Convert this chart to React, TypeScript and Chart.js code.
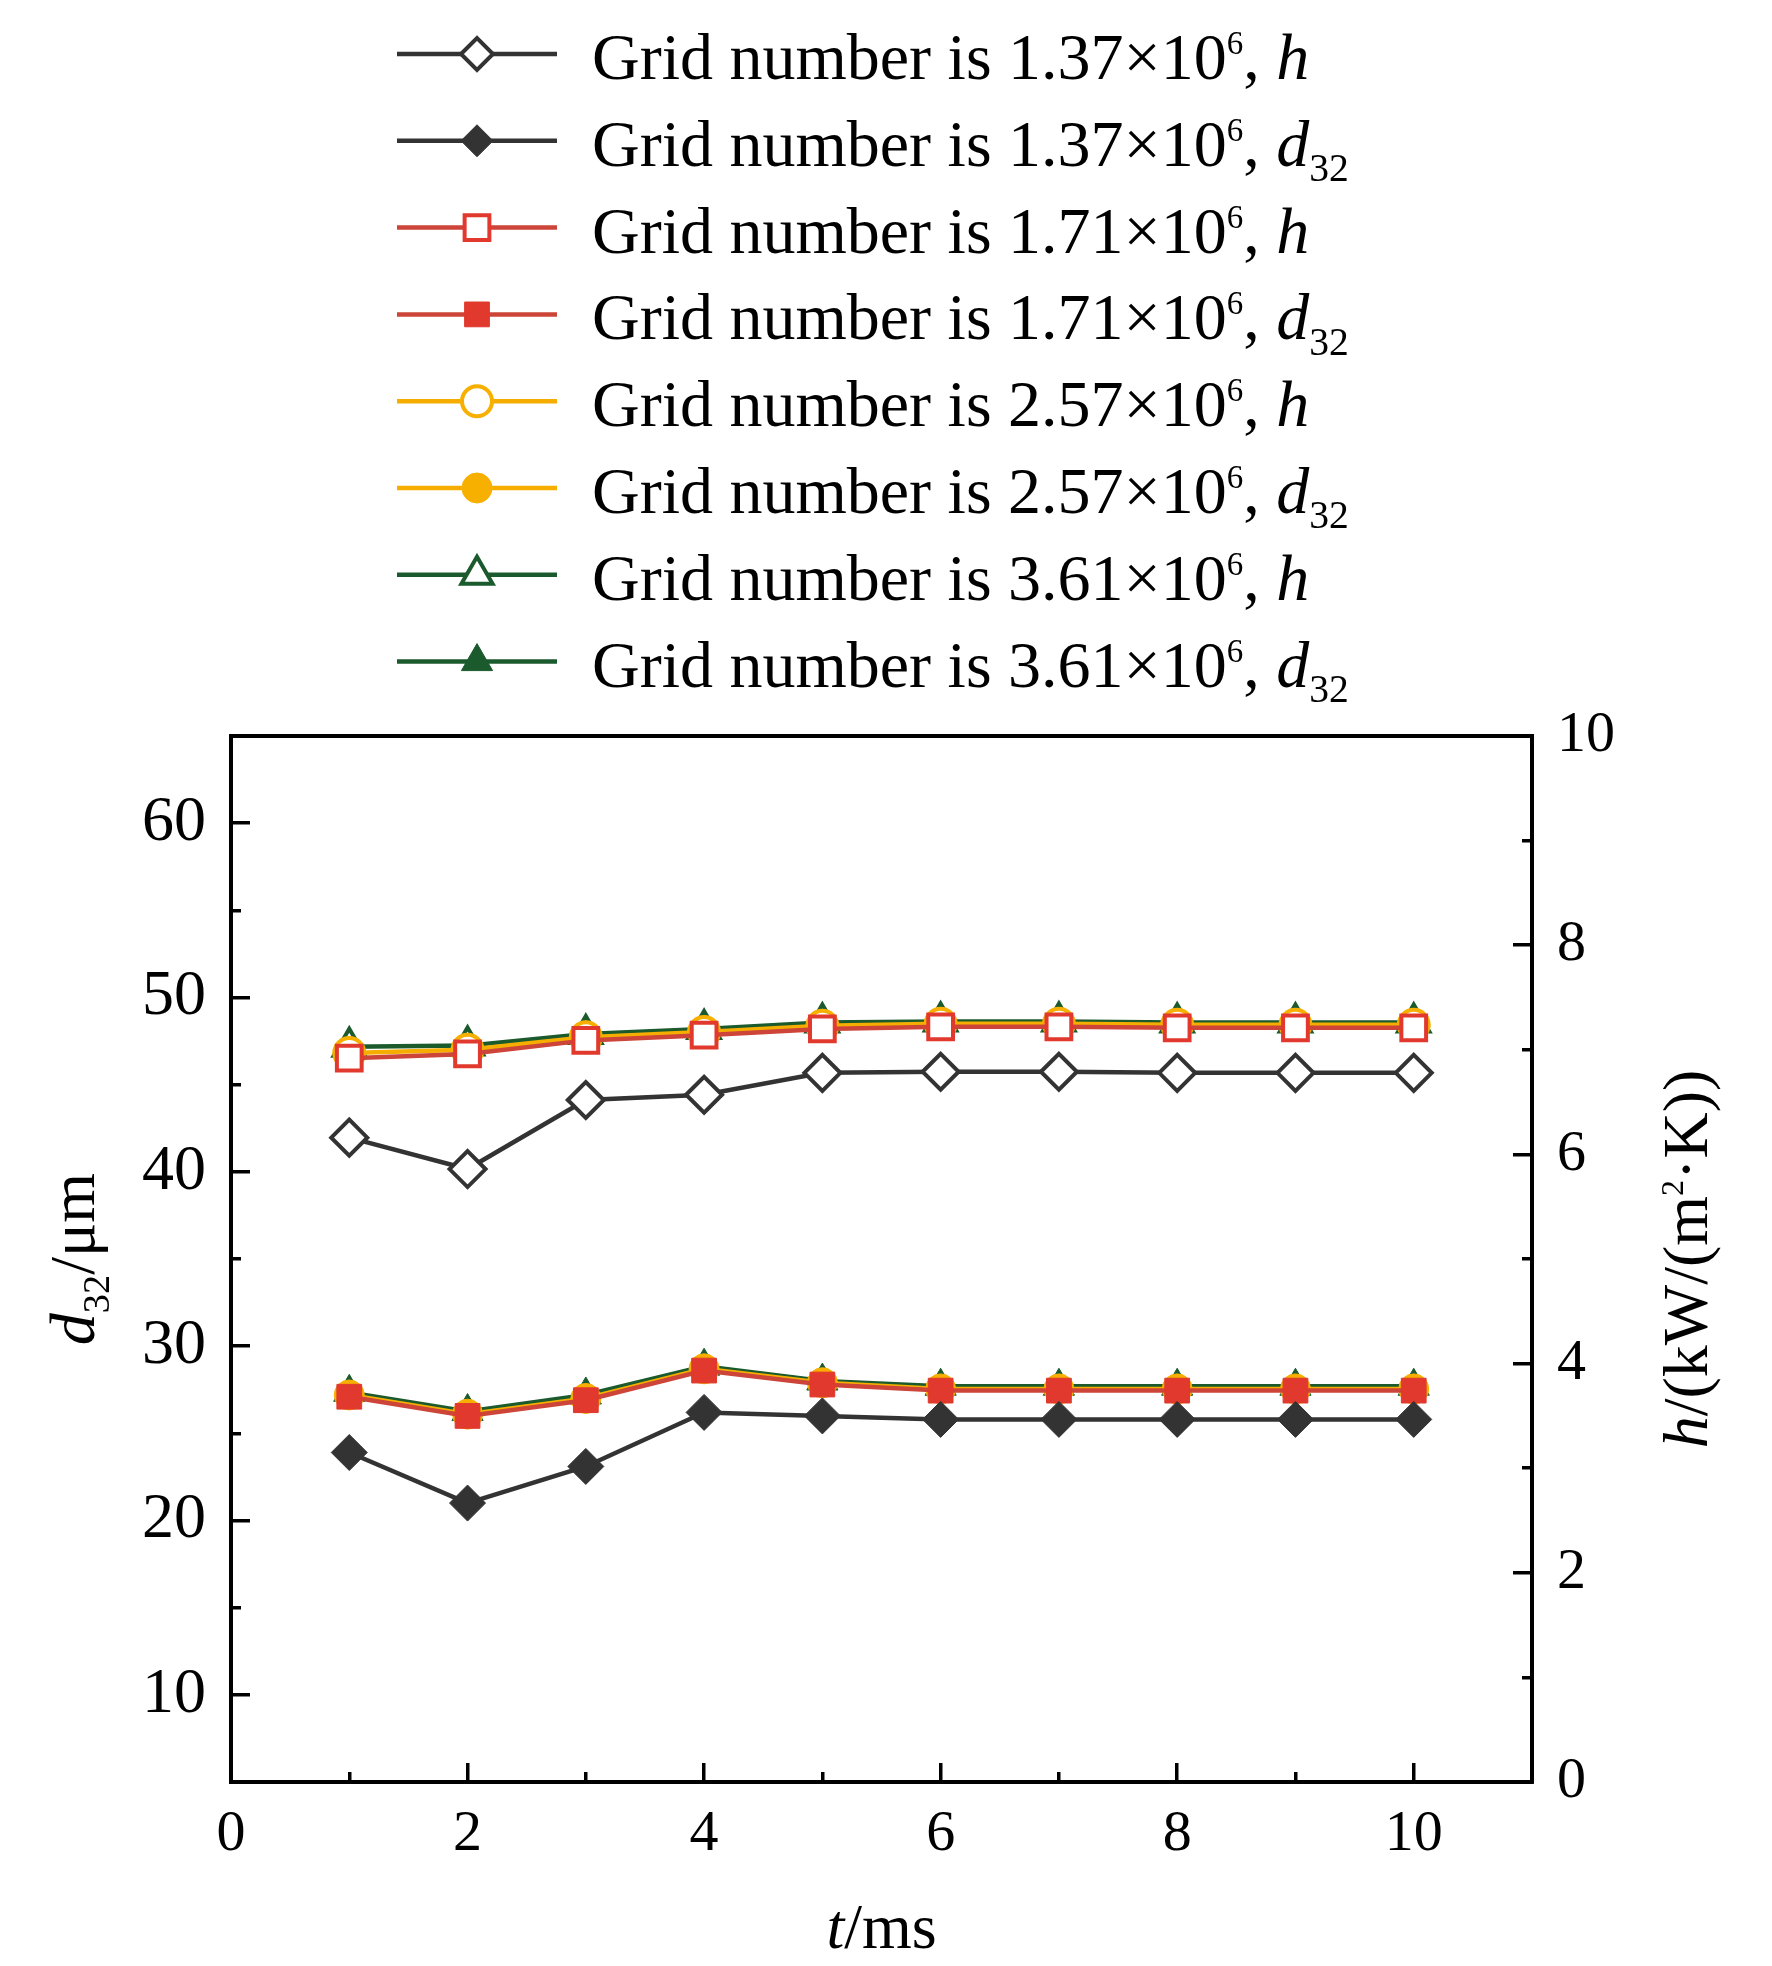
import { useEffect, useRef } from "react"
import { Chart, registerables, type ChartConfiguration, type Plugin } from "chart.js"
import { drawPoint } from "chart.js/helpers"

Chart.register(...registerables)

const FAMILY = '"Liberation Serif", "Times New Roman", serif'

// t / ms
const times = [1, 2, 3, 4, 5, 6, 7, 8, 9, 10]

// grid sizes (×10^6)
const gridSizes = ["1.37", "1.71", "2.57", "3.61"]

// h / (kW/(m²·K))  -> right axis
const h137 = [6.16, 5.86, 6.52, 6.57, 6.78, 6.79, 6.79, 6.78, 6.78, 6.78]
const h171 = [6.92, 6.96, 7.09, 7.14, 7.2, 7.22, 7.22, 7.21, 7.21, 7.21]
const h257 = [6.97, 7.0, 7.12, 7.17, 7.23, 7.25, 7.25, 7.24, 7.24, 7.24]
const h361 = [7.03, 7.04, 7.15, 7.2, 7.26, 7.27, 7.27, 7.26, 7.26, 7.26]

// d32 / μm  -> left axis
const d137 = [23.9, 21.0, 23.1, 26.2, 26.0, 25.8, 25.8, 25.8, 25.8, 25.8]
const d171 = [27.1, 26.0, 26.9, 28.6, 27.8, 27.45, 27.45, 27.45, 27.45, 27.45]
const d257 = [27.2, 26.1, 27.0, 28.7, 27.9, 27.55, 27.55, 27.55, 27.55, 27.55]
const d361 = [27.35, 26.25, 27.2, 28.85, 28.0, 27.7, 27.7, 27.7, 27.7, 27.7]

const hSeries = [h137, h171, h257, h361]
const dSeries = [d137, d171, d257, d361]

// tick labels
const xMajor = [0, 2, 4, 6, 8, 10]
const xMinor = [1, 3, 5, 7, 9]
const leftMajor = [10, 20, 30, 40, 50, 60]
const leftMinor = [15, 25, 35, 45, 55]
const rightMajor = [0, 2, 4, 6, 8, 10]
const rightMinor = [1, 3, 5, 7, 9]

const lineColors = ["#333333", "#cc4538", "#f5ae00", "#1b5a2c"]
const markColors = ["#333333", "#e1392d", "#f7b000", "#1b5a2c"]
const markStyles = ["rectRot", "rect", "circle", "triangle"]
const markRadius = [18, 17.5, 15, 18]

type Seg = { text: string; italic?: boolean; script?: "sup" | "sub" }

function segFont(seg: Seg, size: number) {
  const s = seg.script === "sup" ? size * 0.5 : seg.script === "sub" ? size * 0.6 : size
  return `${seg.italic ? "italic " : ""}${s}px ${FAMILY}`
}

function segShift(seg: Seg, size: number) {
  if (seg.script === "sup") return -size * 0.38
  if (seg.script === "sub") return size * 0.23
  return 0
}

function drawRich(ctx: CanvasRenderingContext2D, segs: Seg[], x: number, y: number, size: number, align: "left" | "center") {
  ctx.save()
  ctx.textBaseline = "alphabetic"
  ctx.textAlign = "left"
  ctx.fillStyle = "#000"
  let total = 0
  const widths = segs.map((s) => {
    ctx.font = segFont(s, size)
    const w = ctx.measureText(s.text).width
    total += w
    return w
  })
  let cx = align === "center" ? x - total / 2 : x
  segs.forEach((s, i) => {
    ctx.font = segFont(s, size)
    ctx.fillText(s.text, cx, y + segShift(s, size))
    cx += widths[i]
  })
  ctx.restore()
}

const legendSegs: Seg[][] = []
gridSizes.forEach((g) => {
  legendSegs.push([{ text: `Grid number is ${g}×10` }, { text: "6", script: "sup" }, { text: ", " }, { text: "h", italic: true }])
  legendSegs.push([
    { text: `Grid number is ${g}×10` },
    { text: "6", script: "sup" },
    { text: ", " },
    { text: "d", italic: true },
    { text: "32", script: "sub" },
  ])
})

const decorPlugin: Plugin = {
  id: "decor",
  afterDraw(chart) {
    const ctx = chart.ctx
    const area = chart.chartArea

    // top frame line
    ctx.save()
    ctx.strokeStyle = "#000"
    ctx.lineWidth = 4
    ctx.beginPath()
    ctx.moveTo(area.left - 2, area.top)
    ctx.lineTo(area.right + 2, area.top)
    ctx.stroke()
    ctx.restore()

    // legend
    chart.data.datasets.forEach((ds: any, i) => {
      const y = 54 + i * 86.8
      ctx.save()
      ctx.strokeStyle = ds.borderColor
      ctx.lineWidth = 4.5
      ctx.beginPath()
      ctx.moveTo(397, y)
      ctx.lineTo(557, y)
      ctx.stroke()
      ctx.fillStyle = ds.pointBackgroundColor
      ctx.strokeStyle = ds.pointBorderColor
      ctx.lineWidth = ds.pointBorderWidth
      const r = ds.pointStyle === "rectRot" ? 16 : ds.pointRadius
      drawPoint(ctx, { radius: r, pointStyle: ds.pointStyle, rotation: 0, borderWidth: ds.pointBorderWidth }, 477, y)
      ctx.restore()
      drawRich(ctx, legendSegs[i], 592, y + 25, 66, "left")
    })

    // axis titles
    const cx = (area.left + area.right) / 2
    const cy = (area.top + area.bottom) / 2
    drawRich(ctx, [{ text: "t", italic: true }, { text: "/ms" }], cx, 1948, 64, "center")

    ctx.save()
    ctx.translate(94, cy)
    ctx.rotate(-Math.PI / 2)
    drawRich(ctx, [{ text: "d", italic: true }, { text: "32", script: "sub" }, { text: "/μm" }], 0, 0, 64, "center")
    ctx.restore()

    ctx.save()
    ctx.translate(1707, cy)
    ctx.rotate(-Math.PI / 2)
    drawRich(
      ctx,
      [{ text: "h", italic: true }, { text: "/(kW/(m" }, { text: "2", script: "sup" }, { text: "·K))" }],
      0,
      0,
      64,
      "center",
    )
    ctx.restore()
  },
}

function toPoints(values: number[]) {
  return values.map((v, i) => ({ x: times[i], y: v }))
}

function axisGrid(len: number) {
  return { drawOnChartArea: false, drawTicks: true, tickLength: len, tickWidth: 3.5, tickColor: "#000", lineWidth: 3.5 }
}

export default function App() {
  const canvasRef = useRef<HTMLCanvasElement>(null)
  const chartRef = useRef<Chart | null>(null)

  useEffect(() => {
    if (!canvasRef.current) return
    const ctx = canvasRef.current.getContext("2d")
    if (!ctx) return
    if (chartRef.current) chartRef.current.destroy()

    const datasets: any[] = []
    gridSizes.forEach((g, k) => {
      const pair: [string, number[], string, boolean][] = [
        ["h", hSeries[k], "y2", true],
        ["d32", dSeries[k], "y", false],
      ]
      pair.forEach(([q, values, axis, hollow]) => {
        datasets.push({
          label: `Grid number is ${g}×10⁶, ${q === "h" ? "h" : "d₃₂"}`,
          data: toPoints(values),
          yAxisID: axis,
          xAxisID: "x",
          borderColor: lineColors[k],
          borderWidth: 4.5,
          pointStyle: markStyles[k],
          pointRadius: markRadius[k],
          pointBackgroundColor: hollow ? "#ffffff" : markColors[k],
          pointBorderColor: markColors[k],
          pointBorderWidth: hollow ? 4 : 1,
          pointHoverRadius: markRadius[k],
          tension: 0,
        })
      })
    })

    const config: ChartConfiguration = {
      type: "line",
      data: { datasets },
      plugins: [decorPlugin],
      options: {
        animation: false,
        responsive: true,
        maintainAspectRatio: false,
        layout: { padding: { top: 736, left: 0, right: 0, bottom: 0 } },
        plugins: { legend: { display: false }, tooltip: { enabled: false } },
        scales: {
          x: {
            type: "linear",
            position: "bottom",
            weight: 1,
            min: 0,
            max: 11,
            afterBuildTicks: (s: any) => {
              s.ticks = xMajor.map((value) => ({ value }))
            },
            afterFit: (s: any) => {
              s.height = 184
            },
            grid: axisGrid(-19),
            border: { display: true, color: "#000", width: 4 },
            ticks: { padding: 37, color: "#000", font: { family: FAMILY, size: 58 }, callback: (v: any) => String(v) },
          },
          xMinor: {
            type: "linear",
            position: "bottom",
            weight: 0,
            min: 0,
            max: 11,
            afterBuildTicks: (s: any) => {
              s.ticks = xMinor.map((value) => ({ value }))
            },
            afterFit: (s: any) => {
              s.height = 0
            },
            grid: axisGrid(-10),
            border: { display: false },
            ticks: { display: false },
          },
          y: {
            type: "linear",
            position: "left",
            weight: 1,
            min: 5,
            max: 65,
            afterBuildTicks: (s: any) => {
              s.ticks = leftMajor.map((value) => ({ value }))
            },
            afterFit: (s: any) => {
              s.width = 231
            },
            grid: axisGrid(-19),
            border: { display: true, color: "#000", width: 4 },
            ticks: { padding: 44, color: "#000", font: { family: FAMILY, size: 64 }, callback: (v: any) => String(v) },
          },
          yMinor: {
            type: "linear",
            position: "left",
            weight: 0,
            min: 5,
            max: 65,
            afterBuildTicks: (s: any) => {
              s.ticks = leftMinor.map((value) => ({ value }))
            },
            afterFit: (s: any) => {
              s.width = 0
            },
            grid: axisGrid(-10),
            border: { display: false },
            ticks: { display: false },
          },
          y2: {
            type: "linear",
            position: "right",
            weight: 1,
            min: 0,
            max: 10,
            afterBuildTicks: (s: any) => {
              s.ticks = rightMajor.map((value) => ({ value }))
            },
            afterFit: (s: any) => {
              s.width = 240
            },
            grid: axisGrid(-19),
            border: { display: true, color: "#000", width: 4 },
            ticks: { padding: 44, color: "#000", font: { family: FAMILY, size: 58 }, callback: (v: any) => String(v) },
          },
          y2Minor: {
            type: "linear",
            position: "right",
            weight: 0,
            min: 0,
            max: 10,
            afterBuildTicks: (s: any) => {
              s.ticks = rightMinor.map((value) => ({ value }))
            },
            afterFit: (s: any) => {
              s.width = 0
            },
            grid: axisGrid(-10),
            border: { display: false },
            ticks: { display: false },
          },
        },
      } as any,
    }

    chartRef.current = new Chart(ctx, config)

    return () => {
      if (chartRef.current) {
        chartRef.current.destroy()
        chartRef.current = null
      }
    }
  }, [])

  return (
    <div style={{ position: "absolute", left: 0, top: 0, width: 1772, height: 1966, background: "#fff" }}>
      <canvas ref={canvasRef} />
    </div>
  )
}
